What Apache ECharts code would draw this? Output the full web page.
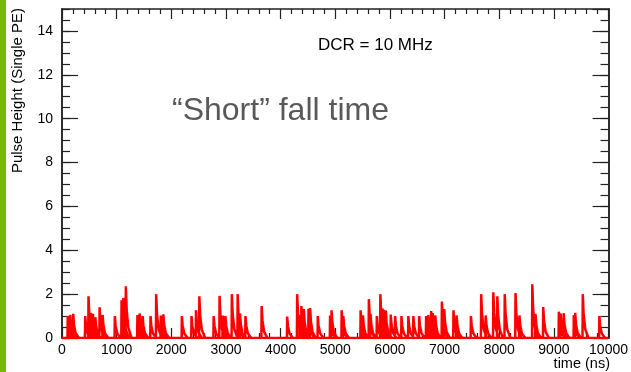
<!DOCTYPE html>
<html>
<head>
<meta charset="utf-8">
<script src="https://cdn.jsdelivr.net/npm/echarts@6/dist/echarts.min.js"></script>
<style>
  html, body { margin: 0; padding: 0; background: #fff; }
  #chart { width: 631px; height: 372px; }
</style>
</head>
<body>
<div id="chart"></div>
<script>
// Dark-count pulse train: arrival time (ns) and peak height (single PE units)
const pulseTime = [
  100, 145, 200, 420, 480, 525, 560, 605, 683, 738,
  962, 1085, 1117, 1163, 1375, 1415, 1470, 1615, 1718, 1803,
  1850, 2188, 2365, 2447, 2508, 2770, 2878, 2935, 2985, 3103,
  3209, 3252, 3352, 3648, 4115, 4298, 4345, 4375, 4420, 4505,
  4535, 4675, 4900, 4927, 5112, 5142, 5459, 5501, 5610, 5640,
  5756, 5820, 5858, 5890, 5920, 6010, 6090, 6206, 6332, 6424,
  6530, 6657, 6697, 6750, 6779, 6825, 6946, 6989, 7158, 7215,
  7477, 7665, 7747, 7887, 7960, 8096, 8293, 8365, 8600, 8658,
  8800, 9086, 9117, 9174, 9360, 9385, 9524, 9827
];
const pulseHeight = [
  1.0, 1.05, 1.1, 1.0, 1.9, 1.15, 1.1, 0.95, 1.4, 1.05,
  1.0, 1.72, 1.82, 2.36, 1.05, 1.12, 1.0, 1.0, 2.0, 1.02,
  1.08, 1.0, 1.0, 1.27, 1.9, 1.0, 1.92, 1.02, 1.0, 2.0,
  2.0, 1.12, 1.0, 1.46, 0.98, 2.0, 1.05, 1.46, 1.32, 1.33,
  1.37, 1.0, 1.02, 1.26, 1.26, 1.0, 1.26, 1.03, 1.77, 1.1,
  1.0, 2.0, 1.35, 1.28, 1.25, 1.07, 1.0, 1.0, 1.0, 1.0,
  1.0, 1.0, 1.05, 1.23, 1.14, 1.03, 1.66, 1.32, 1.26, 1.03,
  1.0, 2.0, 1.03, 2.08, 1.9, 2.0, 2.05, 1.03, 2.45, 1.1,
  1.41, 1.2, 1.12, 1.13, 1.05, 1.15, 2.0, 1.0
];

const timeRange = [0, 10000];
const heightRange = [0, 15];

// Each pulse: fast rise, short fall tail, drawn as its own segment
function pulseSegments() {
  const out = [];
  for (let i = 0; i < pulseTime.length; i++) {
    const t = pulseTime[i], h = pulseHeight[i];
    out.push([t, 0], [t + 5, h], [t + 20, h * 0.55], [t + 50, h * 0.2], [t + 110, 0], ['-', '-']);
  }
  return out;
}

const AXIS_COLOR = '#222';
const FONT = '"Liberation Sans", Arial, Helvetica, sans-serif';

function xAxisDef(pos, labels) {
  return {
    type: 'value', position: pos, min: timeRange[0], max: timeRange[1], interval: 1000,
    axisLine: { show: true, onZero: false, lineStyle: { color: AXIS_COLOR, width: 1.5 } },
    axisTick: { show: true, inside: true, length: 10, lineStyle: { color: AXIS_COLOR, width: 1.2 } },
    minorTick: { show: true, splitNumber: 5, length: 5, lineStyle: { color: AXIS_COLOR, width: 1.2 } },
    splitLine: { show: false },
    axisLabel: { show: labels, margin: 5, fontSize: 14, color: '#000', fontFamily: FONT,
                 showMaxLabel: true, hideOverlap: false, formatter: v => String(v) }
  };
}
function yAxisDef(pos, step, len, labels) {
  return {
    type: 'value', position: pos, min: heightRange[0], max: heightRange[1], interval: step,
    axisLine: { show: true, onZero: false, lineStyle: { color: AXIS_COLOR, width: 1.5 } },
    axisTick: { show: true, inside: true, length: len, lineStyle: { color: AXIS_COLOR, width: 1.2 } },
    splitLine: { show: false },
    axisLabel: { show: labels, margin: 9, fontSize: 14, color: '#000', fontFamily: FONT,
                 showMaxLabel: false, formatter: v => String(v) }
  };
}

const chart = echarts.init(document.getElementById('chart'), null, { renderer: 'canvas' });
chart.setOption({
  animation: false,
  backgroundColor: '#fff',
  grid: { left: 62, right: 20, top: 9, bottom: 34, containLabel: false },
  xAxis: [xAxisDef('bottom', true), xAxisDef('top', false)],
  yAxis: [
    yAxisDef('left', 2, 16, true),
    yAxisDef('left', 0.5, 8, false),
    yAxisDef('right', 2, 16, false),
    yAxisDef('right', 0.5, 8, false)
  ],
  series: [
    {
      type: 'line', xAxisIndex: 0, yAxisIndex: 0, showSymbol: false, silent: true,
      data: [[timeRange[0], 0], [timeRange[1], 0]],
      lineStyle: { color: '#ff0000', width: 2.5 }
    },
    {
      type: 'line', xAxisIndex: 0, yAxisIndex: 0, showSymbol: false, silent: true,
      connectNulls: false,
      data: pulseSegments(),
      lineStyle: { color: '#ff0000', width: 2.5 }
    }
  ],
  graphic: [
    { type: 'rect', left: 0, top: 0, shape: { width: 6, height: 372 }, style: { fill: '#78b800' } },
    { type: 'text', x: 18, y: 8, rotation: Math.PI / 2,
      style: { text: 'Pulse Height (Single PE)', fontSize: 15, fontFamily: FONT, fill: '#000',
               align: 'right', verticalAlign: 'middle' } },
    { type: 'text', x: 610, y: 364,
      style: { text: 'time (ns)', fontSize: 14.5, fontFamily: FONT, fill: '#000',
               align: 'right', verticalAlign: 'middle' } },
    { type: 'text', x: 318, y: 45,
      style: { text: 'DCR = 10 MHz', fontSize: 17, fontFamily: FONT, fill: '#000',
               align: 'left', verticalAlign: 'middle' } },
    { type: 'text', x: 172, y: 111,
      style: { text: '\u201CShort\u201D fall time', fontSize: 32, fontFamily: FONT, fill: '#595959',
               align: 'left', verticalAlign: 'middle' } }
  ]
});
</script>
</body>
</html>
